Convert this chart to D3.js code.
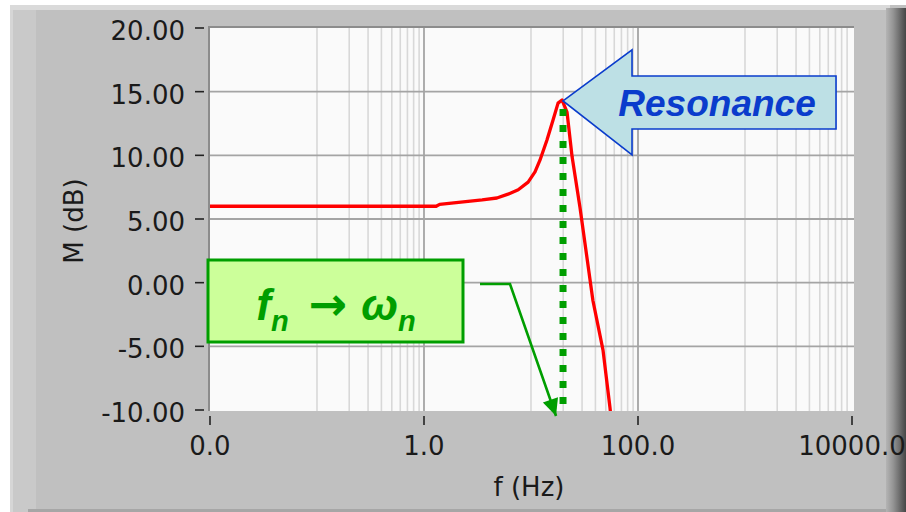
<!DOCTYPE html>
<html>
<head>
<meta charset="utf-8">
<script src="https://cdn.jsdelivr.net/npm/d3@7"></script>
<style>
  html, body { margin: 0; padding: 0; background: #fff; }
  svg { display: block; }
</style>
</head>
<body>
<svg id="chart" width="906" height="512"></svg>
<script>
// magnitude response
var freqHz = [0.01, 1.3, 1.4, 3.5, 4.8, 6.1, 7.6, 9.4, 10.9, 12.1, 14.1, 16.1, 17.9, 19.5, 21.7, 24.2, 28.7, 37.9, 47.1, 54.7, 56];
var magDb  = [6.0, 6.0, 6.15, 6.5, 6.65, 6.95, 7.3, 7.9, 8.7, 9.6, 11.2, 12.8, 14.1, 14.35, 13.4, 9.9, 5.9, -1.4, -5.3, -9.8, -10.6];

var xTicks = [0.01, 1, 100, 10000];
var xTickLabels = ['0.0', '1.0', '100.0', '10000.0'];
var yTicks = [-10, -5, 0, 5, 10, 15, 20];
var minorDecades = [0.1, 10, 1000];   // decades that carry minor grid lines

var naturalFreq = 19.5;   // f_n, where the peak sits
var peakDb = 14.35;

var svg = d3.select('#chart');
var axisFont = '"DejaVu Sans", sans-serif';
var calloutFont = '"Liberation Sans", Arial, sans-serif';
var fmt = d3.formatLocale({ decimal: '.', thousands: ',', grouping: [3], currency: ['', ''], minus: '-' }).format('.2f');

// scales
var x = d3.scaleLog().domain([0.01, 10000]).range([210, 852]);
var y = d3.scaleLinear().domain([-10, 20]).range([410, 28]);

var plot = { left: 209, top: 27, right: 854, bottom: 411 };

// ---- LabVIEW style panel ----
var defs = svg.append('defs');
var bevel = defs.append('linearGradient').attr('id', 'bevel')
  .attr('x1', 0).attr('x2', 1).attr('y1', 0).attr('y2', 0);
bevel.append('stop').attr('offset', 0).attr('stop-color', '#b4b4b4');
bevel.append('stop').attr('offset', 0.35).attr('stop-color', '#959595');
bevel.append('stop').attr('offset', 1).attr('stop-color', '#464646');

defs.append('clipPath').attr('id', 'plotClip')
  .append('rect')
  .attr('x', plot.left).attr('y', plot.top)
  .attr('width', plot.right - plot.left).attr('height', plot.bottom - plot.top);

svg.append('rect').attr('x', 10).attr('y', 5).attr('width', 896).attr('height', 507).attr('fill', '#c0c0c0');
svg.append('rect').attr('x', 10).attr('y', 5).attr('width', 880).attr('height', 5).attr('fill', '#dadada');
svg.append('rect').attr('x', 10).attr('y', 10).attr('width', 26).attr('height', 502).attr('fill', '#c9c9c9');
svg.append('rect').attr('x', 10).attr('y', 10).attr('width', 3).attr('height', 502).attr('fill', '#d6d6d6');
svg.append('rect').attr('x', 28).attr('y', 509).attr('width', 860).attr('height', 3).attr('fill', '#a6a6a6');
svg.append('rect').attr('x', 886).attr('y', 8).attr('width', 20).attr('height', 504).attr('fill', 'url(#bevel)');

// plot background
svg.append('rect')
  .attr('x', plot.left).attr('y', plot.top)
  .attr('width', plot.right - plot.left).attr('height', plot.bottom - plot.top)
  .attr('fill', '#fafafa');

// ---- grid ----
var minorFreqs = [];
minorDecades.forEach(function (d) {
  d3.range(1, 10).forEach(function (k) { minorFreqs.push(d * k); });
});

var grid = svg.append('g').attr('clip-path', 'url(#plotClip)');

grid.selectAll('line.minor')
  .data(minorFreqs)
  .join('line')
  .attr('class', 'minor')
  .attr('x1', d => x(d)).attr('x2', d => x(d))
  .attr('y1', plot.top).attr('y2', plot.bottom)
  .attr('stroke', '#d8d8d8')
  .attr('stroke-width', 1.6);

grid.selectAll('line.vmajor')
  .data(xTicks.slice(1, -1))
  .join('line')
  .attr('class', 'vmajor')
  .attr('x1', d => x(d)).attr('x2', d => x(d))
  .attr('y1', plot.top).attr('y2', plot.bottom)
  .attr('stroke', '#a4a4a4')
  .attr('stroke-width', 1.8);

grid.selectAll('line.hmajor')
  .data(yTicks.slice(1, -1))
  .join('line')
  .attr('class', 'hmajor')
  .attr('x1', plot.left).attr('x2', plot.right)
  .attr('y1', d => y(d)).attr('y2', d => y(d))
  .attr('stroke', '#a4a4a4')
  .attr('stroke-width', 1.8);

// plot frame, dark on top and left
svg.append('path')
  .attr('d', 'M' + plot.left + ',' + plot.bottom + 'V' + plot.top + 'H' + plot.right)
  .attr('fill', 'none')
  .attr('stroke', '#8c8c8c')
  .attr('stroke-width', 2);

// ---- axes ----
var yAxis = svg.append('g');
yAxis.selectAll('line')
  .data(yTicks)
  .join('line')
  .attr('x1', 195).attr('x2', 204)
  .attr('y1', d => y(d)).attr('y2', d => y(d))
  .attr('stroke', '#222').attr('stroke-width', 1.6);
yAxis.selectAll('text')
  .data(yTicks)
  .join('text')
  .attr('x', 185)
  .attr('y', d => y(d) + 12)
  .attr('text-anchor', 'end')
  .style('font-family', axisFont)
  .style('font-size', '26px')
  .attr('fill', '#1a1a1a')
  .text(d => fmt(d));

var xAxis = svg.append('g');
xAxis.selectAll('line')
  .data(xTicks)
  .join('line')
  .attr('x1', d => x(d)).attr('x2', d => x(d))
  .attr('y1', 416).attr('y2', 425)
  .attr('stroke', '#222').attr('stroke-width', 1.6);
xAxis.selectAll('text')
  .data(xTicks)
  .join('text')
  .attr('x', d => x(d))
  .attr('y', 455)
  .attr('text-anchor', 'middle')
  .style('font-family', axisFont)
  .style('font-size', '26px')
  .attr('fill', '#1a1a1a')
  .text((d, i) => xTickLabels[i]);

svg.append('text')
  .attr('x', 529).attr('y', 496)
  .attr('text-anchor', 'middle')
  .style('font-family', axisFont)
  .style('font-size', '26px')
  .attr('fill', '#1a1a1a')
  .text('f (Hz)');

svg.append('text')
  .attr('transform', 'translate(83,221) rotate(-90)')
  .attr('text-anchor', 'middle')
  .style('font-family', axisFont)
  .style('font-size', '26px')
  .attr('fill', '#1a1a1a')
  .text('M (dB)');

// ---- response curve ----
var pts = freqHz.map((f, i) => [f, magDb[i]]);
var line = d3.line().x(d => x(d[0])).y(d => y(d[1]));

svg.append('path')
  .datum(pts)
  .attr('clip-path', 'url(#plotClip)')
  .attr('d', line)
  .attr('fill', 'none')
  .attr('stroke', '#ff0000')
  .attr('stroke-width', 3.3)
  .attr('stroke-linejoin', 'round');

// ---- annotations ----
var green = '#009e00';
var xn = x(naturalFreq);

// dotted drop line at f_n
svg.append('line')
  .attr('x1', xn + 1).attr('x2', xn + 1)
  .attr('y1', y(peakDb) + 9).attr('y2', plot.bottom - 4)
  .attr('stroke', green)
  .attr('stroke-width', 7)
  .attr('stroke-dasharray', '7 9');

// "Resonance" block arrow, tip on the peak
var tx = xn + 1, ty = y(peakDb) + 1;
var arrowPts = [[0, 0], [69, -51], [69, -25], [273, -25], [273, 28], [69, 28], [69, 54]]
  .map(p => [tx + p[0], ty + p[1]]);
svg.append('polygon')
  .attr('points', arrowPts.map(p => p.join(',')).join(' '))
  .attr('fill', '#bde0e5')
  .attr('stroke', '#0a3ccc')
  .attr('stroke-width', 1.6);
svg.append('text')
  .attr('x', tx + 154).attr('y', ty + 15)
  .attr('text-anchor', 'middle')
  .style('font-family', calloutFont)
  .style('font-weight', 'bold')
  .style('font-style', 'italic')
  .style('font-size', '37px')
  .attr('fill', '#0a3ccc')
  .text('Resonance');

// f_n -> omega_n label box
svg.append('rect')
  .attr('x', 208).attr('y', 260).attr('width', 255).attr('height', 82)
  .attr('fill', '#ccff9a')
  .attr('stroke', green)
  .attr('stroke-width', 3);

var lbl = svg.append('text')
  .attr('x', 336).attr('y', 320)
  .attr('text-anchor', 'middle')
  .style('font-family', calloutFont)
  .style('font-weight', 'bold')
  .style('font-style', 'italic')
  .style('font-size', '44px')
  .attr('fill', green);
lbl.append('tspan').text('f');
lbl.append('tspan').style('font-size', '29px').attr('dy', 11).text('n');
lbl.append('tspan').attr('dy', -11).attr('dx', 20)
  .style('font-family', axisFont)
  .style('font-style', 'normal')
  .style('font-size', '46px')
  .text('\u2192');
lbl.append('tspan').attr('dx', 14).text('\u03c9');
lbl.append('tspan').style('font-size', '29px').attr('dy', 11).text('n');

// leader from the box to the axis at f_n
var tip = [xn - 6, plot.bottom + 5];
var knee = [510, 284];
svg.append('path')
  .attr('d', 'M480,284L' + knee.join(',') + 'L' + tip.join(','))
  .attr('fill', 'none')
  .attr('stroke', green)
  .attr('stroke-width', 2.6);
var dx = tip[0] - knee[0], dy = tip[1] - knee[1];
var len = Math.sqrt(dx * dx + dy * dy);
var ux = dx / len, uy = dy / len;
var bx = tip[0] - ux * 17, by = tip[1] - uy * 17;
svg.append('polygon')
  .attr('points', [
    tip,
    [bx - uy * 8, by + ux * 8],
    [bx + uy * 8, by - ux * 8]
  ].map(p => p.join(',')).join(' '))
  .attr('fill', green);
</script>
</body>
</html>
